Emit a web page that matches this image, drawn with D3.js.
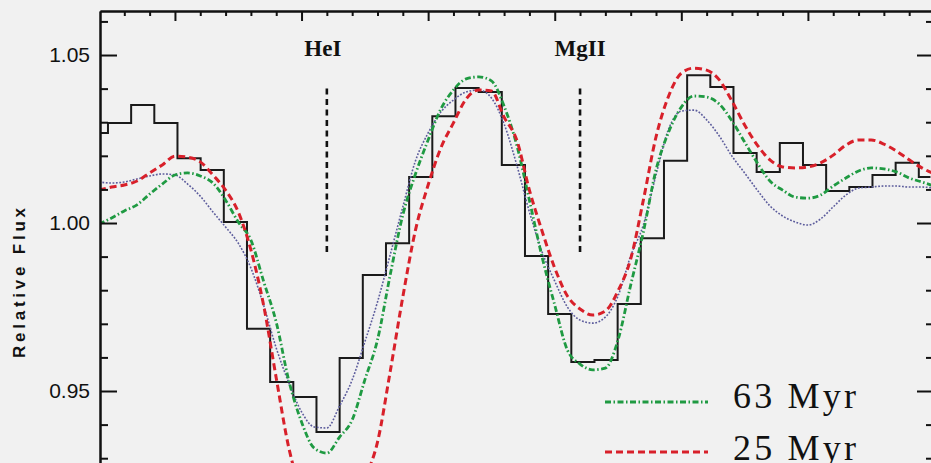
<!DOCTYPE html>
<html>
<head>
<meta charset="utf-8">
<script src="https://cdn.jsdelivr.net/npm/d3@7"></script>
<style>
  html, body { margin: 0; padding: 0; background: #f1f1f1; }
  svg { display: block; }
</style>
</head>
<body>
<svg id="chart" width="931" height="463"></svg>
<script>
// Wavelength grid (Angstrom) for the model spectra
const wave = [4462.0,4462.5,4463.0,4463.5,4464.0,4464.5,4465.0,4465.5,4466.0,4466.5,4467.0,4467.5,4468.0,4468.5,4469.0,4469.5,4470.0,4470.5,4471.0,4471.5,4472.0,4472.5,4473.0,4473.5,4474.0,4474.5,4475.0,4475.5,4476.0,4476.5,4477.0,4477.5,4478.0,4478.5,4479.0,4479.5,4480.0,4480.5,4481.0,4481.5,4482.0,4482.5,4483.0,4483.5,4484.0,4484.5,4485.0,4485.5,4486.0,4486.5,4487.0,4487.5,4488.0,4488.5,4489.0,4489.5,4490.0,4490.5,4491.0,4491.5,4492.0,4492.5,4493.0,4493.5,4494.0,4494.5,4495.0];

// Model: 25 Myr
const flux25 = [1.0098,1.0107,1.0113,1.0125,1.0149,1.0173,1.0199,1.0196,1.0182,1.0143,1.0098,1.0033,0.9920,0.9756,0.9539,0.9330,0.9205,0.9155,0.9137,0.9146,0.9176,0.9241,0.9348,0.9557,0.9780,0.9979,1.0113,1.0223,1.0298,1.0369,1.0396,1.0393,1.0315,1.0247,1.0098,0.9976,0.9866,0.9783,0.9744,0.9726,0.9738,0.9798,0.9893,1.0068,1.0256,1.0378,1.0446,1.0461,1.0455,1.0426,1.0363,1.0292,1.0232,1.0188,1.0167,1.0164,1.0167,1.0179,1.0202,1.0232,1.0247,1.0247,1.0235,1.0214,1.0188,1.0164,1.0146];

// Model: 63 Myr
const flux63 = [0.9997,1.0015,1.0036,1.0054,1.0086,1.0116,1.0143,1.0149,1.0140,1.0119,1.0068,1.0003,0.9949,0.9827,0.9705,0.9530,0.9408,0.9330,0.9315,0.9363,0.9414,0.9533,0.9652,0.9845,1.0024,1.0146,1.0247,1.0339,1.0396,1.0429,1.0435,1.0423,1.0348,1.0232,1.0068,0.9899,0.9756,0.9622,0.9580,0.9563,0.9568,0.9652,0.9815,0.9973,1.0158,1.0271,1.0345,1.0378,1.0375,1.0354,1.0304,1.0241,1.0179,1.0125,1.0098,1.0077,1.0074,1.0083,1.0110,1.0134,1.0155,1.0164,1.0161,1.0152,1.0134,1.0122,1.0110];

// Third model (dotted)
const fluxDotted = [1.0122,1.0119,1.0122,1.0131,1.0140,1.0146,1.0143,1.0116,1.0080,1.0033,0.9988,0.9940,0.9866,0.9756,0.9628,0.9524,0.9438,0.9393,0.9390,0.9455,0.9533,0.9646,0.9765,0.9905,1.0048,1.0185,1.0268,1.0330,1.0366,1.0390,1.0396,1.0372,1.0295,1.0173,1.0033,0.9914,0.9827,0.9750,0.9711,0.9702,0.9720,0.9783,0.9902,0.9994,1.0143,1.0280,1.0333,1.0336,1.0307,1.0259,1.0199,1.0149,1.0098,1.0051,1.0021,1.0003,0.9994,1.0012,1.0048,1.0083,1.0104,1.0107,1.0110,1.0110,1.0107,1.0107,1.0104];

// Observed spectrum, binned: bin centres (Angstrom) and flux
const obsWave = [4461.90,4462.81,4463.73,4464.64,4465.56,4466.47,4467.39,4468.30,4469.22,4470.13,4471.05,4471.96,4472.88,4473.79,4474.71,4475.62,4476.54,4477.45,4478.37,4479.28,4480.20,4481.11,4482.03,4482.94,4483.86,4484.77,4485.69,4486.60,4487.52,4488.43,4489.35,4490.26,4491.18,4492.09,4493.01,4493.92,4494.84];
const obsFlux = [1.0268,1.0298,1.0351,1.0298,1.0193,1.0158,1.0003,0.9685,0.9527,0.9482,0.9378,0.9598,0.9845,0.9940,1.0137,1.0318,1.0402,1.0390,1.0173,0.9902,0.9729,0.9586,0.9592,0.9759,0.9955,1.0185,1.0440,1.0405,1.0208,1.0152,1.0238,1.0173,1.0095,1.0107,1.0143,1.0179,1.0137];

// Line identifications
const lineNames = ["HeI", "MgII"];
const lineWave = [4471.0, 4481.0];
const lineSpan = [0.991, 1.040];

// Axis ticks
const yMajorTicks = [0.95, 1.00, 1.05];
const yTickLabels = ["0.95", "1.00", "1.05"];

// Legend entries
const legendLabels = ["63 Myr", "25 Myr"];

const svg = d3.select("#chart");
const plotLeft = 100, plotRight = 934, plotTop = 11, plotBottom = 559;

const x = d3.scaleLinear().domain([4462.04, 4494.98]).range([plotLeft, plotRight]);
const y = d3.scaleLinear().domain([0.90, 1.0631]).range([plotBottom, plotTop]);

svg.append("defs").append("clipPath").attr("id", "plot")
  .append("rect").attr("x", plotLeft).attr("y", plotTop)
  .attr("width", plotRight - plotLeft).attr("height", plotBottom - plotTop);

const g = svg.append("g").attr("clip-path", "url(#plot)");

const line = d3.line().x(d => x(d[0])).y(d => y(d[1])).curve(d3.curveMonotoneX);
const zip = (a, b) => a.map((v, i) => [v, b[i]]);

// Observed histogram
g.append("path")
  .datum(zip(obsWave, obsFlux))
  .attr("d", d3.line().x(d => x(d[0])).y(d => y(d[1])).curve(d3.curveStep))
  .attr("fill", "none").attr("stroke", "#1a1a1a").attr("stroke-width", 2);

// Model curves
const series = [
  { values: fluxDotted, color: "#5c5c9c", width: 1.6, dash: "1.8,1.6" },
  { values: flux63, color: "#1f9a42", width: 2.8, dash: "6,2.5,1.5,2.5" },
  { values: flux25, color: "#d8202a", width: 3, dash: "7,4" }
];
series.forEach(s => {
  g.append("path")
    .datum(zip(wave, s.values))
    .attr("d", line)
    .attr("fill", "none")
    .attr("stroke", s.color)
    .attr("stroke-width", s.width)
    .attr("stroke-dasharray", s.dash);
});

// Line markers and labels
lineNames.forEach((name, i) => {
  svg.append("line")
    .attr("x1", x(lineWave[i])).attr("x2", x(lineWave[i]))
    .attr("y1", y(lineSpan[1])).attr("y2", y(lineSpan[0]))
    .attr("stroke", "#111").attr("stroke-width", 2.6).attr("stroke-dasharray", "6,4.5");
  svg.append("text")
    .attr("x", x(lineWave[i]) - (i === 0 ? 4 : 0)).attr("y", 56)
    .attr("text-anchor", "middle")
    .attr("font-family", "'Liberation Serif', 'Times New Roman', serif")
    .attr("font-weight", "bold").attr("font-size", 23)
    .attr("fill", "#111")
    .text(name);
});

// Axes
const axisStyle = sel => {
  sel.select(".domain").attr("stroke", "#111").attr("stroke-width", 2);
  sel.selectAll(".tick line").attr("stroke", "#111").attr("stroke-width", 2);
};

const xMajor = d3.range(4465, 4495, 5);
const xMinor = d3.range(4463, 4495, 1).filter(v => v % 5 !== 0);

svg.append("g").attr("transform", `translate(0,${plotTop})`)
  .call(d3.axisBottom(x).tickValues(xMajor).tickSizeInner(10).tickSizeOuter(0).tickFormat(""))
  .call(axisStyle);
svg.append("g").attr("transform", `translate(0,${plotTop})`)
  .call(d3.axisBottom(x).tickValues(xMinor).tickSizeInner(5).tickSizeOuter(0).tickFormat(""))
  .call(axisStyle);

const yMinor = d3.range(0.90, 1.065, 0.01).map(v => +v.toFixed(2)).filter(v => !yMajorTicks.includes(v));

const yLeft = svg.append("g").attr("transform", `translate(${plotLeft},0)`)
  .call(d3.axisLeft(y).tickValues(yMajorTicks).tickSizeInner(-17).tickSizeOuter(0).tickPadding(10)
    .tickFormat((d, i) => yTickLabels[i]))
  .call(axisStyle);
yLeft.selectAll(".tick text")
  .attr("font-family", "'Liberation Sans', Arial, sans-serif")
  .attr("font-size", 21).attr("fill", "#111");
svg.append("g").attr("transform", `translate(${plotLeft},0)`)
  .call(d3.axisLeft(y).tickValues(yMinor).tickSizeInner(-8).tickSizeOuter(0).tickFormat(""))
  .call(axisStyle);

svg.append("g").attr("transform", `translate(${plotRight},0)`)
  .call(d3.axisRight(y).tickValues(yMajorTicks).tickSizeInner(-17).tickSizeOuter(0).tickFormat(""))
  .call(axisStyle);
svg.append("g").attr("transform", `translate(${plotRight},0)`)
  .call(d3.axisRight(y).tickValues(yMinor).tickSizeInner(-8).tickSizeOuter(0).tickFormat(""))
  .call(axisStyle);

// Y axis title
svg.append("text")
  .attr("transform", "translate(25,283) rotate(-90)")
  .attr("text-anchor", "middle")
  .attr("font-family", "'Liberation Sans', Arial, sans-serif")
  .attr("font-weight", "bold").attr("font-size", 17)
  .attr("textLength", 150).attr("lengthAdjust", "spacing")
  .attr("fill", "#111")
  .text("Relative Flux");

// Legend
const legendSeries = [series[1], series[2]];
legendLabels.forEach((lab, i) => {
  const ly = 402 + i * 50;
  svg.append("line")
    .attr("x1", 605).attr("x2", 708).attr("y1", ly).attr("y2", ly)
    .attr("stroke", legendSeries[i].color)
    .attr("stroke-width", legendSeries[i].width)
    .attr("stroke-dasharray", legendSeries[i].dash);
  svg.append("text")
    .attr("x", 733).attr("y", ly + 6 + (i === 1 ? 2 : 0))
    .attr("font-family", "'Liberation Serif', 'Times New Roman', serif")
    .attr("font-size", 36)
    .attr("textLength", 123).attr("lengthAdjust", "spacing")
    .attr("fill", "#111")
    .text(lab);
});
</script>
</body>
</html>
